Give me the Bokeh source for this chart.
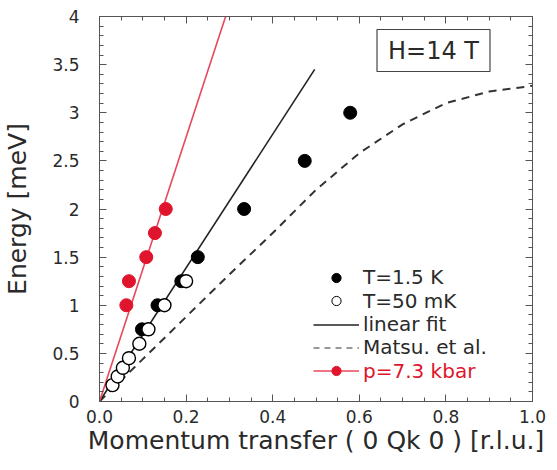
import numpy as np
from bokeh.plotting import figure
from bokeh.models import (LinearAxis, FixedTicker, Legend, LegendItem, Label,
                          Range1d, CustomLabelingPolicy)
from bokeh.embed import file_html
from bokeh.resources import INLINE

# ---- data ----
q_15K = [0.098, 0.134, 0.189, 0.227, 0.334, 0.474, 0.579]
E_15K = [0.75, 1.0, 1.25, 1.5, 2.0, 2.5, 3.0]

q_50mK = [0.030, 0.042, 0.054, 0.068, 0.092, 0.113, 0.150, 0.200]
E_50mK = [0.17, 0.26, 0.35, 0.45, 0.60, 0.75, 1.00, 1.25]

q_press = [0.062, 0.068, 0.108, 0.128, 0.153]
E_press = [1.0, 1.25, 1.5, 1.75, 2.0]

q_fit = [0.0, 0.497]
E_fit = [0.0, 3.45]

q_fit_press = [0.0, 0.30]
E_fit_press = [0.0, 4.12]

q_matsu = [0.0, 0.1, 0.2, 0.3, 0.4, 0.5, 0.6, 0.7, 0.8, 0.9, 1.0]
E_matsu = [0.0, 0.44, 0.88, 1.32, 1.75, 2.20, 2.58, 2.88, 3.10, 3.22, 3.28]

x_ticks = [0.0, 0.2, 0.4, 0.6, 0.8, 1.0]
x_tick_labels = ["0.0", "0.2", "0.4", "0.6", "0.8", "1.0"]
y_ticks = [0, 0.5, 1, 1.5, 2, 2.5, 3, 3.5, 4]
y_tick_labels = ["0", "0.5", "1", "1.5", "2", "2.5", "3", "3.5", "4"]

legend_labels = ["T=1.5 K", "T=50 mK", "linear fit", "Matsu. et al.", "p=7.3 kbar"]
field_label = "H=14 T"

RED = "#e0142c"
RED_LINE = "#e8485c"
AX = "#555555"
TXT = "#2a2a2a"
FONT = "DejaVu Sans"

p = figure(frame_width=433, frame_height=385,
           x_range=Range1d(0, 1), y_range=Range1d(0, 4),
           output_backend="svg", toolbar_location=None,
           min_border_left=95, min_border_right=13,
           min_border_top=11, min_border_bottom=57,
           background_fill_color="white", border_fill_color="white")
p.grid.visible = False
p.outline_line_color = AX
p.outline_line_width = 1

x_minor = list(np.round(np.arange(0, 1.0001, 0.05), 3))
y_minor = list(np.round(np.arange(0, 4.0001, 0.1), 3))

hide_labels = CustomLabelingPolicy(code="for (const i of indices) { indices.unset(i) }\nreturn indices")


def style_axis(ax, show_labels):
    ax.axis_line_color = AX
    ax.major_tick_line_color = AX
    ax.minor_tick_line_color = AX
    ax.major_tick_in = 7
    ax.major_tick_out = 0
    ax.minor_tick_in = 4
    ax.minor_tick_out = 0
    ax.major_label_text_font = FONT
    ax.major_label_text_color = TXT
    ax.major_label_text_font_size = "17px"
    ax.axis_label_text_font = FONT
    ax.axis_label_text_font_style = "normal"
    ax.axis_label_text_color = TXT
    if not show_labels:
        ax.major_label_policy = hide_labels
        ax.major_label_standoff = 0


xax = p.xaxis[0]
yax = p.yaxis[0]
xax.ticker = FixedTicker(ticks=x_ticks, minor_ticks=x_minor)
yax.ticker = FixedTicker(ticks=y_ticks, minor_ticks=y_minor)
style_axis(xax, True)
style_axis(yax, True)
xax.major_label_overrides = dict(zip(x_ticks, x_tick_labels))
yax.major_label_overrides = dict(zip(y_ticks, y_tick_labels))
xax.major_label_standoff = 8
yax.major_label_standoff = 20
xax.axis_label = "Momentum transfer ( 0 Qk 0 ) [r.l.u.]"
yax.axis_label = "Energy [meV]"
xax.axis_label_text_font_size = "25px"
yax.axis_label_text_font_size = "25px"
xax.axis_label_standoff = 0
yax.axis_label_standoff = 17

top = LinearAxis(ticker=FixedTicker(ticks=x_ticks, minor_ticks=x_minor))
right = LinearAxis(ticker=FixedTicker(ticks=y_ticks, minor_ticks=y_minor))
style_axis(top, False)
style_axis(right, False)
p.add_layout(top, "above")
p.add_layout(right, "right")

# ---- data glyphs ----
r_matsu = p.line(q_matsu, E_matsu, line_color="#333333", line_width=2, line_dash="8 6")
r_fit = p.line(q_fit, E_fit, line_color="#222222", line_width=1.6)
r_fitp = p.line(q_fit_press, E_fit_press, line_color=RED_LINE, line_width=1.6)
p.scatter(q_15K, E_15K, size=13, fill_color="black", line_color="black")
p.scatter(q_50mK, E_50mK, size=13, fill_color="white", line_color="black", line_width=1.4)
p.scatter(q_press, E_press, size=13, fill_color=RED, line_color=RED)

# ---- legend proxies (smaller markers as in the reference legend; NaN = not drawn in plot) ----
nan = [np.nan]
lg_15 = p.scatter(nan, nan, size=8, fill_color="black", line_color="black")
lg_50 = p.scatter(nan, nan, size=7, fill_color="white", line_color="black", line_width=1)
lg_fit = p.line(nan, nan, line_color="#222222", line_width=1.4)
lg_matsu = p.line(nan, nan, line_color="#777777", line_width=1.4, line_dash="6 5")
lg_pl = p.line(nan, nan, line_color=RED_LINE, line_width=1.4)
lg_pm = p.scatter(nan, nan, size=9, fill_color=RED, line_color=RED)

legend_renderers = [[lg_15], [lg_50], [lg_fit], [lg_matsu], [lg_pl, lg_pm]]
legend_colors = [TXT, TXT, TXT, TXT, RED]
n_leg = len(legend_labels)

for i, (lab, rends, col) in enumerate(zip(legend_labels, legend_renderers, legend_colors)):
    leg = Legend(items=[LegendItem(label=lab, renderers=rends)],
                 location=(214, 18.4 + 23.3 * (n_leg - 1 - i)),
                 padding=0, margin=0, spacing=0, glyph_width=46, glyph_height=23,
                 label_height=23, label_standoff=4, border_line_color=None,
                 background_fill_alpha=0, label_text_font=FONT,
                 label_text_font_size="20px", label_text_color=col)
    p.add_layout(leg)

box = Label(x=334, y=351, x_units="screen", y_units="screen", text=field_label,
            text_font=FONT, text_font_size="24px", text_color=TXT,
            text_align="center", text_baseline="middle",
            border_line_color="#444444", border_line_width=1.2,
            background_fill_color="white", padding=(11, 7))
p.add_layout(box)

open("out.html", "w").write(file_html(p, INLINE))
